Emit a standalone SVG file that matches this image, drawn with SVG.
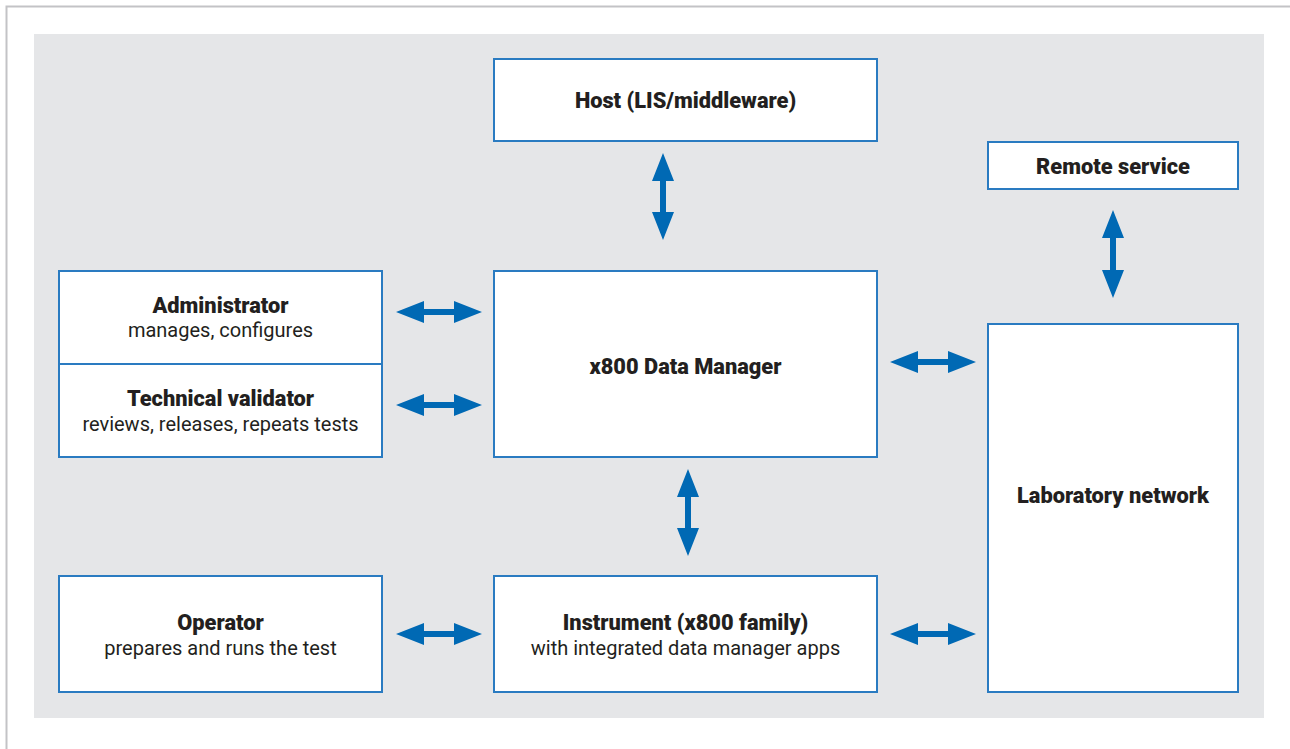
<svg xmlns="http://www.w3.org/2000/svg" width="1290" height="749" viewBox="0 0 1290 749">
<style>
.box{fill:#ffffff;stroke:#2a7bc1;stroke-width:2}
.t{font-family:Roboto,"Liberation Sans",sans-serif;font-size:20px;fill:#231f20;text-anchor:middle}
.b{font-weight:900;font-size:21.8px}
.arr{fill:#0069b4}
</style>
<rect x="0" y="0" width="1290" height="749" fill="#ffffff"/>
<path d="M6.5 749 V6.5 H1290" fill="none" stroke="#c3c3c6" stroke-width="2"/>
<rect x="34" y="34" width="1230" height="684" fill="#e5e6e8"/>
<g id="host"><rect class="box" x="494" y="59" width="383" height="82"/><text class="t b" x="685.5" y="108">Host (LIS/middleware)</text></g>
<g id="remote"><rect class="box" x="988" y="142" width="250" height="47"/><text class="t b" x="1113" y="174">Remote service</text></g>
<g id="admin"><rect class="box" x="59" y="271" width="323" height="93"/><text class="t b" x="220.5" y="313">Administrator</text><text class="t" x="220.5" y="337">manages, configures</text></g>
<g id="validator"><rect class="box" x="59" y="364" width="323" height="93"/><text class="t b" x="220.5" y="406">Technical validator</text><text class="t" x="220.5" y="431">reviews, releases, repeats tests</text></g>
<g id="dm"><rect class="box" x="494" y="271" width="383" height="186"/><text class="t b" x="685.5" y="374">x800 Data Manager</text></g>
<g id="labnet"><rect class="box" x="988" y="324" width="250" height="368"/><text class="t b" x="1113" y="503">Laboratory network</text></g>
<g id="operator"><rect class="box" x="59" y="576" width="323" height="116"/><text class="t b" x="220.5" y="630">Operator</text><text class="t" x="220.5" y="655">prepares and runs the test</text></g>
<g id="instrument"><rect class="box" x="494" y="576" width="383" height="116"/><text class="t b" x="685.5" y="630">Instrument (x800 family)</text><text class="t" x="685.5" y="655">with integrated data manager apps</text></g>
<g id="connectors" class="arr">
<path d="M396 312 L424 301 V309 H454 V301 L482 312 L454 323 V315 H424 V323 Z"/>
<path d="M396 405 L424 394 V402 H454 V394 L482 405 L454 416 V408 H424 V416 Z"/>
<path d="M396 634 L424 623 V631 H454 V623 L482 634 L454 645 V637 H424 V645 Z"/>
<path d="M890 362 L918 351 V359 H948 V351 L976 362 L948 373 V365 H918 V373 Z"/>
<path d="M890 634 L918 623 V631 H948 V623 L976 634 L948 645 V637 H918 V645 Z"/>
<path d="M663 153 L674 181 H666 V212 H674 L663 240 L652 212 H660 V181 H652 Z"/>
<path d="M688 469 L699 497 H691 V528 H699 L688 556 L677 528 H685 V497 H677 Z"/>
<path d="M1113 210 L1124 238 H1116 V270 H1124 L1113 298 L1102 270 H1110 V238 H1102 Z"/>
</g>
</svg>
